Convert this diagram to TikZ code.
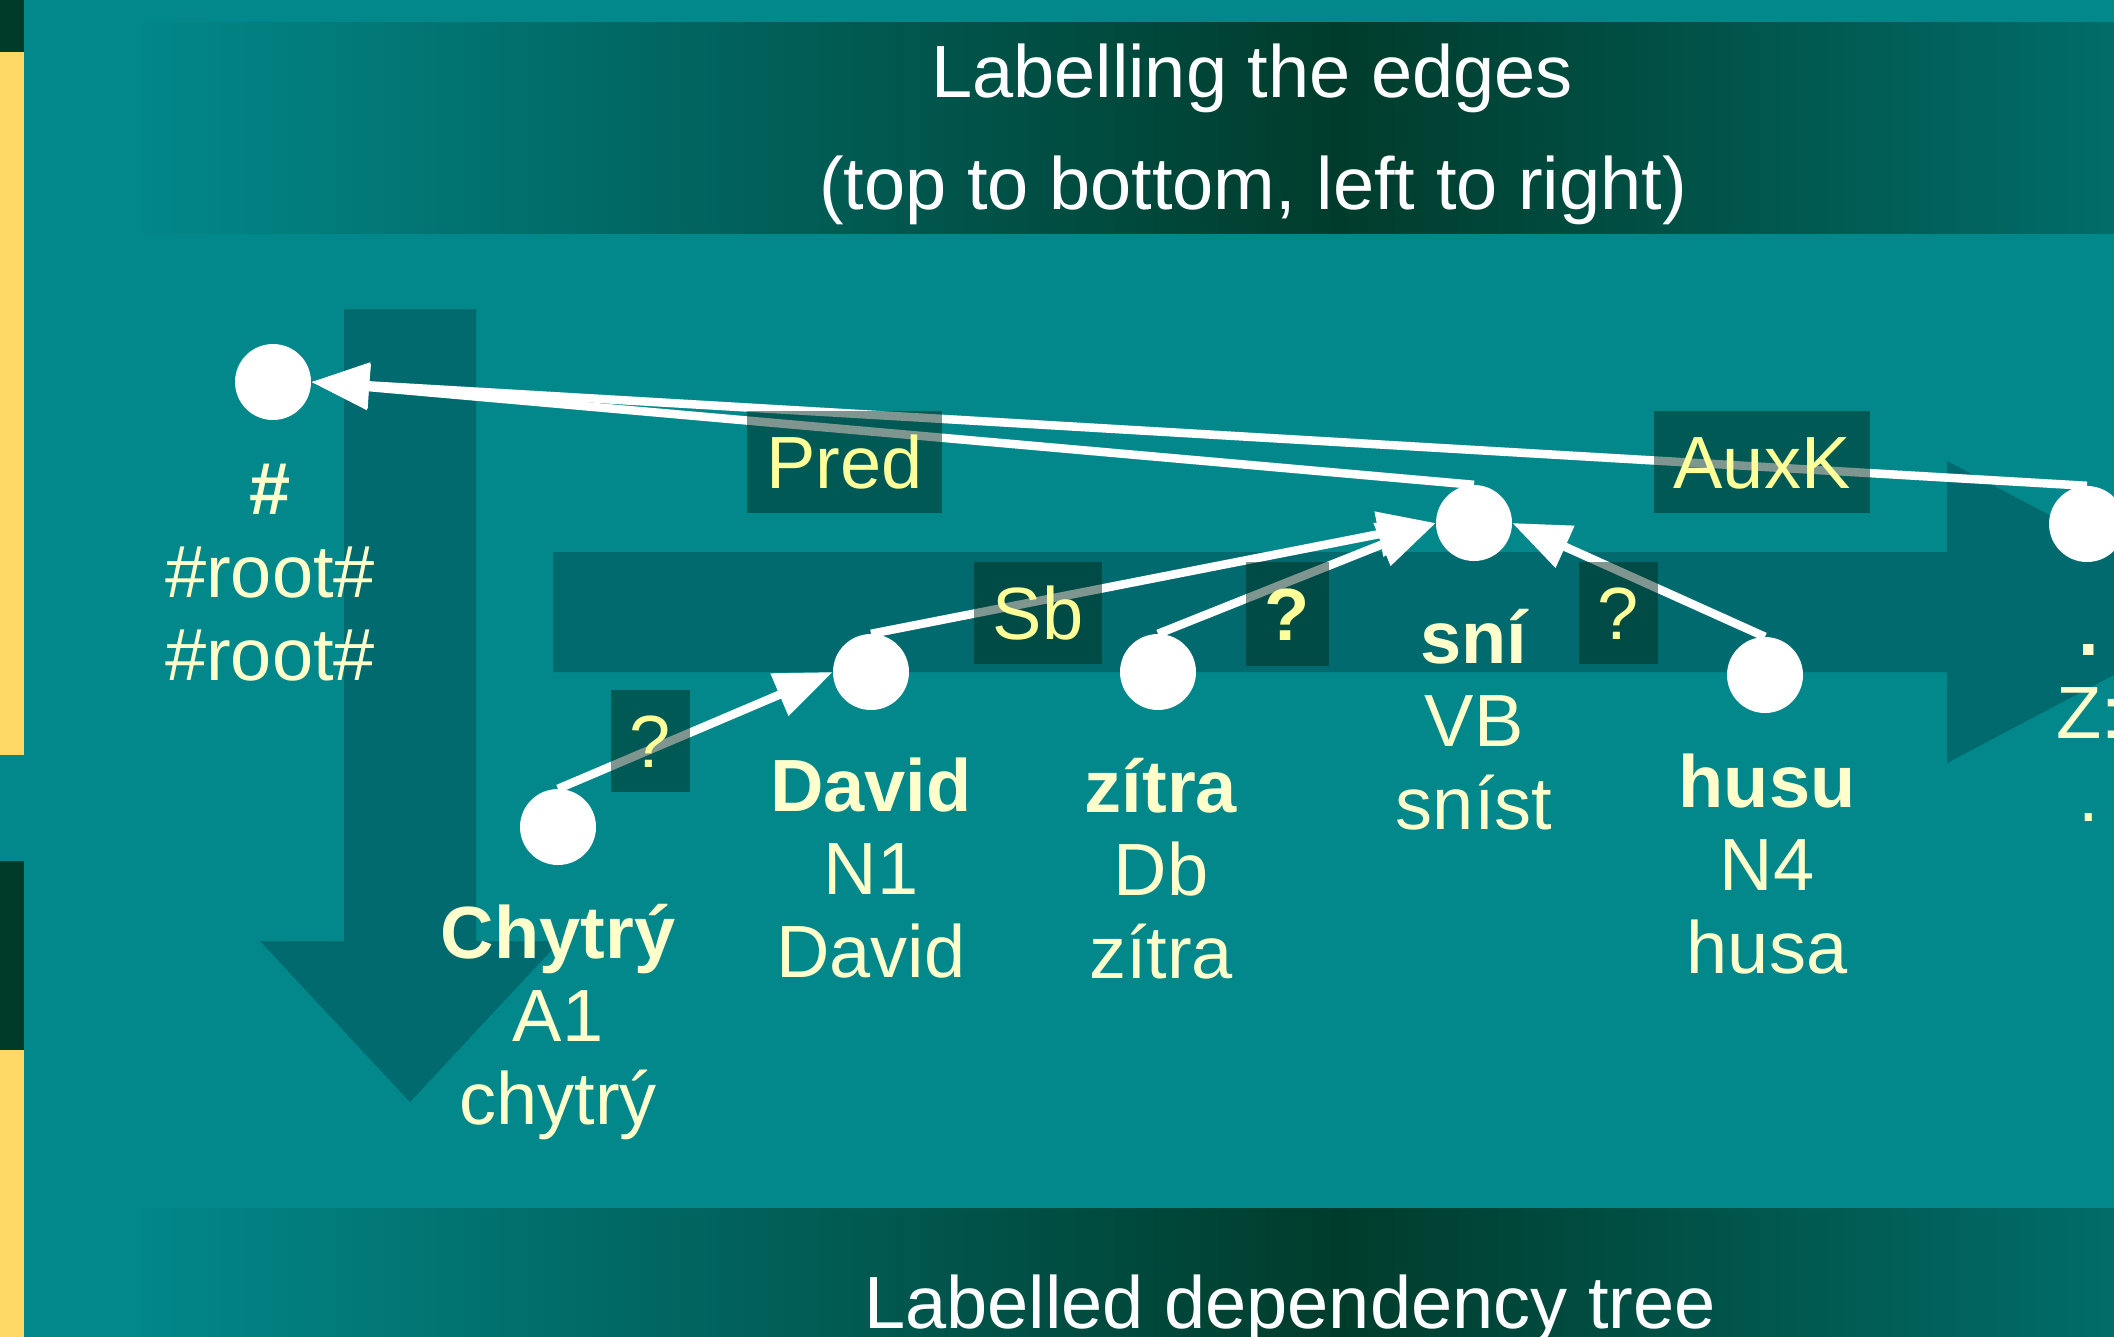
\documentclass[tikz,border=0pt]{standalone}
\usepackage{fontspec}
\setmainfont{Liberation Sans}
\usetikzlibrary{arrows.meta}
\definecolor{bg}{RGB}{2,135,138}
\definecolor{bandDark}{RGB}{0,60,44}
\definecolor{stripDark}{RGB}{0,58,40}
\definecolor{stripYellow}{RGB}{255,217,102}
\definecolor{bigArrow}{RGB}{0,106,110}
\definecolor{boxFill}{RGB}{0,45,32}
\definecolor{wordText}{RGB}{255,255,204}
\definecolor{labText}{RGB}{255,255,153}
\begin{document}
\begin{tikzpicture}[x=1pt,y=-1pt,
  tok/.style={circle,fill=white,inner sep=0pt,minimum size=76pt},
  words/.style={anchor=base,inner sep=0pt,text=wordText,font=\fontsize{74}{83}\selectfont},
  edge/.style={draw=white,line width=8.5pt,-{Triangle[length=58pt,width=44pt]}},
  lab/.style={fill=boxFill,fill opacity=0.5,text opacity=1,text=labText,inner sep=0pt,
    font=\fontsize{74}{83}\selectfont,text height=53pt,text depth=0pt,minimum height=102pt},
  titletext/.style={anchor=base,text=white,inner sep=0pt,font=\fontsize{74}{83}\selectfont},
  bigarrow/.style={fill=bigArrow}]
\useasboundingbox (0,0) rectangle (2114,1336);
\clip (-6,-6) rectangle (2120,1342);
% background
\fill[bg] (-6,-6) rectangle (2120,1342);
\shade[left color=bg,right color=bg,middle color=bandDark] (135,22) rectangle (2540,233);
\shade[left color=bg,right color=bg,middle color=bandDark] (135,1208) rectangle (2540,1420);
% left strip
\fill[stripDark] (-6,-6) rectangle (24,52);
\fill[stripYellow] (-6,52) rectangle (24,755);
\fill[stripDark] (-6,861) rectangle (24,1050);
\fill[stripYellow] (-6,1050) rectangle (24,1342);
% big arrows
\fill[bigarrow] (344,309) -- (476,309) -- (476,941) -- (560,941) -- (410,1102) -- (260,941) -- (344,941) -- cycle;
\fill[bigarrow] (553,552) -- (1947,552) -- (1947,461) -- (2233,612) -- (1947,763) -- (1947,672) -- (553,672) -- cycle;
% titles
\node[titletext] (t1) at (1252,97) {Labelling the edges};
\node[titletext] (t2) at (1253,209) {(top to bottom, left to right)};
\node[titletext] (t3) at (1290,1328) {Labelled dependency tree};
% tokens
\node[tok] (root) at (273,382) {};
\node[tok] (chytry) at (558,827) {};
\node[tok] (david) at (871,672) {};
\node[tok] (zitra) at (1158,672) {};
\node[tok] (sni) at (1474,523) {};
\node[tok] (husu) at (1765,675) {};
\node[tok] (dot) at (2087,524) {};
% edges
\draw[edge] (chytry.north) -- (david.west);
\draw[edge] (david.north) -- (sni.west);
\draw[edge] (zitra.north) -- (sni.west);
\draw[edge] (husu.north) -- (sni.east);
\draw[edge] (sni.north) -- (root.east);
\draw[edge] (dot.north) -- (root.east);
% edge labels
\node[lab,minimum width=195pt] (lPred) at (844.5,462) {Pred};
\node[lab,minimum width=216pt] (lAuxK) at (1762,462) {AuxK};
\node[lab,minimum width=128pt] (lSb) at (1038,613) {Sb};
\node[lab,minimum width=83pt,minimum height=104pt] (lQz) at (1287.5,614) {\bfseries ?};
\node[lab,minimum width=79pt] (lQh) at (1618.5,613) {?};
\node[lab,minimum width=79pt] (lQc) at (650.5,741) {?};
% token texts
\node[words] (wRoot) at (270,514) {\begin{tabular}[t]{@{}c@{}}\bfseries\#\\\#root\#\\\#root\#\end{tabular}};
\node[words] (wChytry) at (558,958) {\begin{tabular}[t]{@{}c@{}}\bfseries Chytrý\\A1\\chytrý\end{tabular}};
\node[words] (wDavid) at (871,811) {\begin{tabular}[t]{@{}c@{}}\bfseries David\\N1\\David\end{tabular}};
\node[words] (wZitra) at (1161,812) {\begin{tabular}[t]{@{}c@{}}\bfseries zítra\\Db\\zítra\end{tabular}};
\node[words] (wSni) at (1474,663) {\begin{tabular}[t]{@{}c@{}}\bfseries sní\\VB\\sníst\end{tabular}};
\node[words] (wHusu) at (1767,807) {\begin{tabular}[t]{@{}c@{}}\bfseries husu\\N4\\husa\end{tabular}};
\node[words] (wDot) at (2089,655) {\begin{tabular}[t]{@{}c@{}}\bfseries .\\Z:\\.\end{tabular}};
\end{tikzpicture}
\end{document}
